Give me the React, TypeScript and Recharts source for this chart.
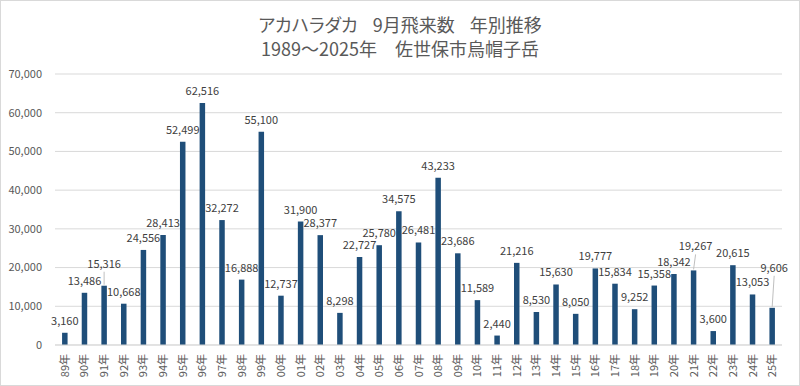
import { BarChart, Bar, XAxis, YAxis, CartesianGrid, LabelList } from "recharts";

const YEARS = [
  "89年", "90年", "91年", "92年", "93年", "94年", "95年", "96年", "97年", "98年",
  "99年", "00年", "01年", "02年", "03年", "04年", "05年", "06年", "07年", "08年",
  "09年", "10年", "11年", "12年", "13年", "14年", "15年", "16年", "17年", "18年",
  "19年", "20年", "21年", "22年", "23年", "24年", "25年",
];

const COUNTS = [
  3160, 13486, 15316, 10668, 24556, 28413, 52499, 62516, 32272, 16888,
  55100, 12737, 31900, 28377, 8298, 22727, 25780, 34575, 26481, 43233,
  23686, 11589, 2440, 21216, 8530, 15630, 8050, 19777, 15834, 9252,
  15358, 18342, 19267, 3600, 20615, 13053, 9606,
];

const Y_TICKS = [0, 10000, 20000, 30000, 40000, 50000, 60000, 70000];

const TITLE_PARTS = ["アカハラダカ", "9月飛来数", "年別推移"];
const SUBTITLE = "1989～2025年　佐世保市烏帽子岳";

const data = YEARS.map((year, i) => ({ year, count: COUNTS[i] }));

const FONT = "'Noto Sans CJK JP', 'Noto Sans', sans-serif";
const GREY = "#595959";

// labels that Excel moved aside, with a leader line
const LABEL_SHIFT: Record<number, { dx: number; dy: number }> = {
  2: { dx: 0, dy: -18 },
  32: { dx: 2, dy: -20 },
  36: { dx: 2, dy: -36 },
};

const fmt = (v: number) => v.toLocaleString("en-US");

function ValueLabel(props: any) {
  const { x, y, width, value, index } = props;
  const cx = x + width / 2;
  const shift = LABEL_SHIFT[index];
  if (shift) {
    const lx = cx + shift.dx;
    const ly = y + shift.dy;
    return (
      <g>
        <line x1={cx} y1={y - 1} x2={lx} y2={ly + 4} stroke="#bfbfbf" strokeWidth={1} />
        <text x={lx} y={ly} textAnchor="middle" fontSize={11} fill="#404040" fontFamily={FONT}>
          {fmt(value)}
        </text>
      </g>
    );
  }
  return (
    <text x={cx} y={y - 8} textAnchor="middle" fontSize={11} fill="#404040" fontFamily={FONT}>
      {fmt(value)}
    </text>
  );
}

function YearTick(props: any) {
  const { x, y, payload } = props;
  return (
    <text
      x={0}
      y={0}
      transform={`translate(${x + 4},${y + 1}) rotate(-90)`}
      textAnchor="end"
      fontSize={11}
      fill={GREY}
      fontFamily={FONT}
    >
      {payload.value}
    </text>
  );
}

export default function App() {
  return (
    <div style={{ position: "absolute", left: 0, top: 0, width: 800, height: 386, background: "#fff" }}>
      <div
        style={{
          position: "absolute",
          left: 0,
          top: 0,
          width: 798,
          height: 384,
          border: "1px solid #d9d9d9",
        }}
      />
      <div
        style={{
          position: "absolute",
          top: 12,
          width: 800,
          textAlign: "center",
          fontFamily: FONT,
          fontSize: 18,
          lineHeight: "24px",
          color: GREY,
          whiteSpace: "nowrap",
        }}
      >
        <div>
          {TITLE_PARTS.map((part, i) => (
            <span
              key={part}
              style={{
                marginLeft: i === 0 ? 0 : 15,
                fontFeatureSettings: i === 0 ? '"palt"' : "normal",
              }}
            >
              {part}
            </span>
          ))}
        </div>
        <div>{SUBTITLE}</div>
      </div>
      <BarChart
        width={800}
        height={386}
        data={data}
        margin={{ top: 74, right: 18, bottom: 3, left: 5 }}
        barCategoryGap="64%"
        style={{ position: "absolute", left: 0, top: 0 }}
      >
        <CartesianGrid vertical={false} stroke="#d9d9d9" />
        <XAxis
          dataKey="year"
          interval={0}
          height={38}
          tickLine={false}
          axisLine={{ stroke: "#d9d9d9" }}
          tick={<YearTick />}
        />
        <YAxis
          width={50}
          domain={[0, 70000]}
          ticks={Y_TICKS}
          tickFormatter={fmt}
          tickLine={false}
          tickMargin={7}
          axisLine={false}
          tick={{ fontSize: 11, fill: GREY, fontFamily: FONT }}
        />
        <Bar dataKey="count" fill="#1f4e79" isAnimationActive={false}>
          <LabelList dataKey="count" content={<ValueLabel />} />
        </Bar>
      </BarChart>
    </div>
  );
}
